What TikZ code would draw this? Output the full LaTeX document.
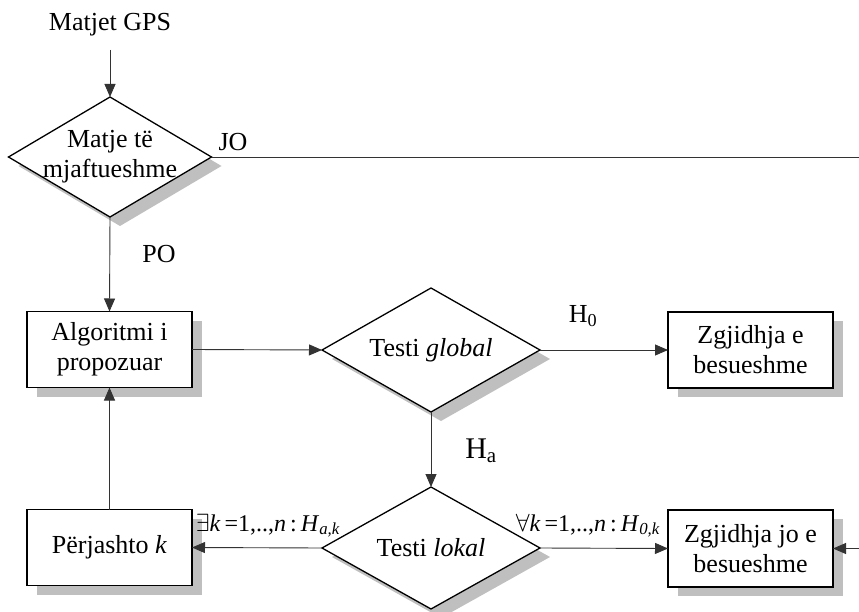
\documentclass[tikz,border=0pt]{standalone}
\usepackage{fontspec}
\setmainfont{Liberation Serif}
\usetikzlibrary{shapes.geometric,arrows.meta,shadows}

\tikzset{
  txt/.style={font=\fontsize{26}{30}\selectfont, align=center, inner sep=0pt},
  shade/.style={drop shadow={shadow xshift=10pt, shadow yshift=-9pt, fill=black!25, opacity=1}},
  box/.style={draw, line width=1.6pt, fill=white, shade, minimum width=165pt,
              minimum height=76pt, inner sep=0pt, outer sep=0pt, txt},
  decision/.style={draw, diamond, line width=1.3pt, fill=white, shade,
                   inner sep=0pt, outer sep=0pt},
  flow/.style={draw=black!80, line width=0.9pt, -{Triangle[length=13pt,width=11pt]}},
  plain/.style={draw=black!80, line width=0.9pt},
  cond/.style={txt, font=\fontsize{24}{30}\selectfont, anchor=base},
}

\begin{document}
\begin{tikzpicture}[x=1pt,y=-1pt]
\useasboundingbox (0,0) rectangle (859,612);

% input
\node[txt] (gps) at (110,25) {Matjet GPS};

% data sufficiency check
\node[decision, minimum width=203pt, minimum height=120pt] (d1) at (110,157) {};
\node[txt] (d1t) at (110,157) {Matje të\\mjaftueshme};
\node[txt] (jo) at (233,142) {JO};
\coordinate (joEnd) at (859,157);

% processing
\node[box] (alg) at (109.5,349.5) {Algoritmi i\\propozuar};
\node[txt] (po) at (159,254) {PO};

% global test
\node[decision, minimum width=218pt, minimum height=124pt] (glob) at (431,350) {};
\node[txt] (globt) at (431,350) {Testi \textit{global}};
\node[txt, font=\fontsize{26}{30}\selectfont] (h0) at (583,316) {H\textsubscript{0}};

\node[box] (zg1) at (750.5,350) {Zgjidhja e\\besueshme};

% local test
\node[decision, minimum width=218pt, minimum height=122pt] (lok) at (431,548) {};
\node[txt] (lokt) at (431,548) {Testi \textit{lokal}};
\node[txt, font=\fontsize{30}{30}\selectfont] (ha) at (481,451) {H\textsubscript{a}};

\node[box] (perj) at (109.5,547.5) {Përjashto \textit{k}};
\node[box, minimum height=77pt] (zg2) at (750.5,548.5) {Zgjidhja jo e\\besueshme};
\coordinate (inR) at (859,548.5);

\node[cond] (lblE) at (268,531)
  {$\exists$\textit{k}\,=1,..,\textit{n}\,:\,\textit{H}\textsubscript{\textit{a,k}}};
\node[cond] (lblA) at (588,531)
  {$\forall$\textit{k}\,=1,..,\textit{n}\,:\,\textit{H}\textsubscript{\textit{0,k}}};

% connectors
\draw[flow] (gps.south |- 0,50) -- (d1.north);
\draw[plain] (d1.east) -- (joEnd);
\draw[flow] (d1.south) -- (alg.north);
\draw[flow] (alg.east) -- (glob.west);
\draw[flow] (glob.east) -- (zg1.west);
\draw[flow] (glob.south) -- (lok.north);
\draw[flow] (lok.west) -- (perj.east);
\draw[flow] (lok.east) -- (zg2.west);
\draw[flow] (perj.north) -- (alg.south);
\draw[flow] (inR) -- (zg2.east);
\end{tikzpicture}
\end{document}
